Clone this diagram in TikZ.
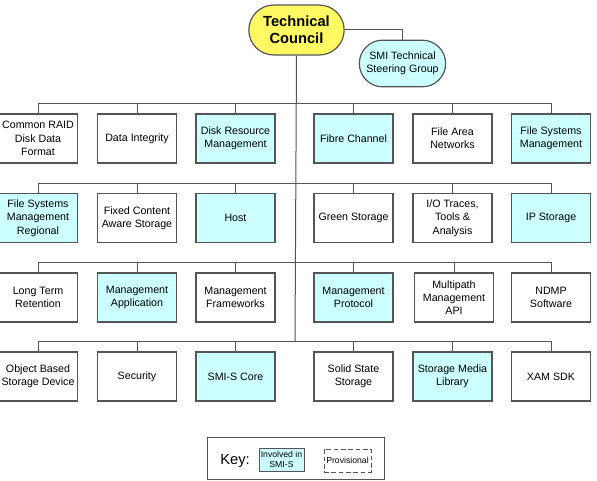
\documentclass[tikz,border=0pt]{standalone}
\usepackage{fontspec}
\setmainfont{Liberation Sans}
\usetikzlibrary{shapes.misc}
\definecolor{smifill}{RGB}{204,255,255}
\definecolor{councilfill}{RGB}{255,250,100}
\definecolor{edgegray}{RGB}{85,85,85}
\begin{document}
\begin{tikzpicture}[x=0.75pt,y=-0.75pt,
  wg/.style={draw=edgegray, line width=0.9pt, fill=white,
    minimum width=59.25pt, minimum height=36.75pt, inner sep=1pt,
    align=center, font=\fontsize{8}{10}\selectfont},
  smi/.style={wg, fill=smifill},
  link/.style={draw=edgegray, line width=0.75pt}]
\useasboundingbox (0,0) rectangle (597,481);

% top of the hierarchy
\node[rounded rectangle, draw=edgegray, line width=0.9pt, fill=councilfill,
  minimum width=73.5pt, minimum height=37.5pt, inner sep=1pt, align=center,
  font=\fontsize{11}{13}\selectfont\bfseries] (tc) at (296.5,30) {Technical\\Council};
\node[rounded rectangle, draw=edgegray, line width=0.9pt, fill=smifill,
  minimum width=66.75pt, minimum height=35pt, inner sep=1pt, align=center,
  font=\fontsize{8}{10}\selectfont] (sc) at (402.5,63.5) {SMI Technical\\Steering Group};

% junctions on the spine
\coordinate (j1) at (295,104);
\coordinate (j2) at (295,184);
\coordinate (j3) at (295,263);
\coordinate (j4) at (295,342);

% row 1
\node[wg]  (a1) at (38,138.5)  {Common RAID\\Disk Data\\Format};
\node[wg]  (a2) at (137,138.5) {Data Integrity};
\node[smi] (a3) at (235.5,138.5) {Disk Resource\\Management};
\node[smi] (a4) at (353.5,138.5) {Fibre Channel};
\node[wg]  (a5) at (452.5,138.5) {File Area\\Networks};
\node[smi] (a6) at (551,138.5) {File Systems\\Management};

% row 2
\node[smi] (b1) at (38,218)  {File Systems\\Management\\Regional};
\node[wg]  (b2) at (137,218) {Fixed Content\\Aware Storage};
\node[smi] (b3) at (235.5,218) {Host};
\node[wg]  (b4) at (353.5,218) {Green Storage};
\node[wg]  (b5) at (452.5,218) {I/O Traces,\\Tools \&\\Analysis};
\node[smi] (b6) at (551,218) {IP Storage};

% row 3
\node[wg]  (c1) at (38,297.5)  {Long Term\\Retention};
\node[smi] (c2) at (137,297.5) {Management\\Application};
\node[wg]  (c3) at (235.5,297.5) {Management\\Frameworks};
\node[smi] (c4) at (353.5,297.5) {Management\\Protocol};
\node[wg]  (c5) at (454,297.5) {Multipath\\Management\\API};
\node[wg]  (c6) at (551,297.5) {NDMP\\Software};

% row 4
\node[wg]  (d1) at (38,376.5)  {Object Based\\Storage Device};
\node[wg]  (d2) at (137,376.5) {Security};
\node[smi] (d3) at (235.5,376.5) {SMI-S Core};
\node[wg]  (d4) at (353.5,376.5) {Solid State\\Storage};
\node[smi] (d5) at (452.5,376.5) {Storage Media\\Library};
\node[wg]  (d6) at (551,376.5) {XAM SDK};

% connectors
\draw[link] (tc.south) -- (j4);
\draw[link] (tc.east) -| (sc.north);
\foreach \r/\j in {a/j1,b/j2,c/j3,d/j4}{
  \foreach \k in {1,...,6}{
    \draw[link] (\j) -| (\r\k.north);
  }
}

% key
\node[draw=edgegray, line width=0.75pt, minimum width=132.75pt, minimum height=31.5pt,
  inner sep=0pt] (key) at (295.5,458) {};
\node[font=\fontsize{11}{13}\selectfont] (keylbl) at (235,461) {Key:};
\node[draw=edgegray, line width=0.75pt, fill=smifill, minimum width=33.75pt,
  minimum height=17.25pt, inner sep=0pt, align=center,
  font=\fontsize{6.5}{7.5}\selectfont] (keysmi) at (281.5,459.5) {Involved in\\SMI-S};
\node[draw=edgegray, line width=0.75pt, dash pattern=on 3.5pt off 2pt,
  minimum width=35.25pt, minimum height=17.25pt, inner sep=0pt,
  font=\fontsize{6.5}{7.5}\selectfont] (keyprov) at (347.5,460.5) {Provisional};
\end{tikzpicture}
\end{document}
